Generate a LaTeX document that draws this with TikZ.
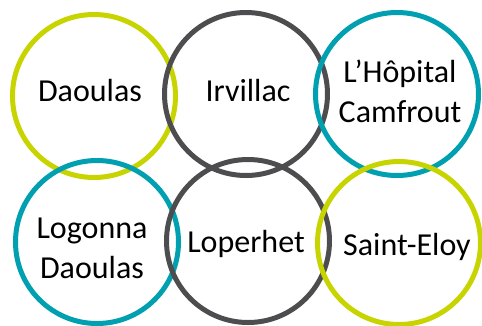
\documentclass[tikz,border=0pt]{standalone}
\usepackage{fontspec}
\setmainfont{Carlito}
\definecolor{lime}{HTML}{C8D400}
\definecolor{slate}{HTML}{4D4D4F}
\definecolor{teal2}{HTML}{00A0B0}
\begin{document}
\begin{tikzpicture}[x=1pt,y=-1pt,
  ring/.style={circle,draw=#1,line width=5pt,minimum size=163pt,inner sep=0pt},
  lbl/.style={font=\fontsize{32}{40}\selectfont,align=center,inner sep=0pt}]
\useasboundingbox (0,0) rectangle (482,325);
\node[ring=lime] (c1) at (94,96) {};
\node[ring=slate] (c2) at (246,94) {};
\node[ring=teal2] (c3) at (397,94) {};
\node[ring=teal2] (c4) at (97,242) {};
\node[ring=slate] (c5) at (248,241) {};
\node[ring=lime] (c6) at (399,243) {};
\node[lbl,anchor=base] (t1) at (90,101) {Daoulas};
\node[lbl,anchor=base] (t2) at (248,101) {Irvillac};
\node[lbl,anchor=base] (t3) at (400,122) {L’Hôpital\\Camfrout};
\node[lbl,anchor=base] (t4) at (92,278) {Logonna\\Daoulas};
\node[lbl,anchor=base] (t5) at (246,252) {Loperhet};
\node[lbl,anchor=base] (t6) at (407,255) {Saint-Eloy};
\end{tikzpicture}
\end{document}
